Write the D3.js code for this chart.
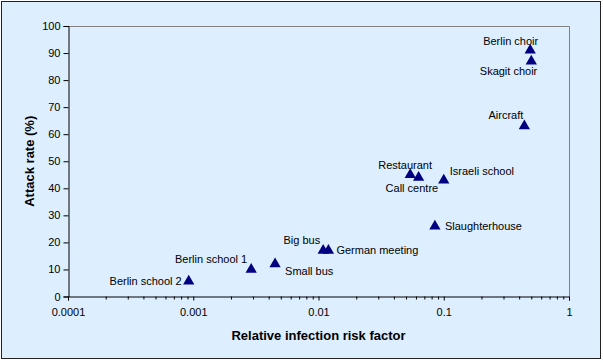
<!DOCTYPE html>
<html>
<head>
<meta charset="utf-8">
<script src="https://cdn.jsdelivr.net/npm/d3@7"></script>
<style>
  body { margin: 0; background: #fff; }
  text { font-family: "Liberation Sans", Arial, sans-serif; }
</style>
</head>
<body>
<div id="chart"></div>
<script>
// outbreak data
const outbreaks = ['Berlin school 2', 'Berlin school 1', 'Small bus', 'Big bus', 'German meeting',
  'Restaurant', 'Call centre', 'Israeli school', 'Slaughterhouse', 'Aircraft', 'Berlin choir', 'Skagit choir'];
const riskFactor = [0.00092, 0.0029, 0.0045, 0.0109, 0.012, 0.054, 0.063, 0.1, 0.085, 0.44, 0.49, 0.5];
const attackRate = [5.6, 10, 12, 17, 17, 45, 44, 43, 26, 63, 91, 87];
const xTicks = [0.0001, 0.001, 0.01, 0.1, 1];
const yTicks = d3.range(0, 101, 10);

// label placement relative to each marker (dx, dy, anchor)
const labelPlace = [
  [-7, 0, 'end'], [-4, -10, 'end'], [10, 7, 'start'], [-3, -10, 'end'], [8, 0, 'start'],
  [-32, -10, 'start'], [-33, 11, 'start'], [6, -9, 'start'], [10, 0, 'start'],
  [-1, -11, 'end'], [8, -9, 'end'], [6, 10, 'end']
];

const width = 603, height = 363;
const margin = { top: 26, right: 34, bottom: 66, left: 68 };

const svg = d3.select('#chart').append('svg')
  .attr('width', width)
  .attr('height', height);

svg.append('rect')
  .attr('x', 1.5).attr('y', 1.5)
  .attr('width', 599).attr('height', 357)
  .attr('fill', '#DDEEFF')
  .attr('stroke', '#222').attr('stroke-width', 1);

const x = d3.scaleLog()
  .domain([0.0001, 1])
  .range([margin.left, width - margin.right]);

const y = d3.scaleLinear()
  .domain([0, 100])
  .range([height - margin.bottom - 0.5, margin.top]);

const plotR = width - margin.right;
const plotB = height - margin.bottom - 0.5;

// plot frame top & right in grey
svg.append('path')
  .attr('d', `M${margin.left},${margin.top + 0.5}H${plotR + 0.5}V${plotB}`)
  .attr('fill', 'none')
  .attr('stroke', '#808080');

// y axis
const yAxis = svg.append('g')
  .attr('transform', `translate(${margin.left + 0.5},0)`)
  .call(d3.axisLeft(y).tickValues(yTicks).tickSize(5).tickPadding(3));
yAxis.select('.domain').attr('stroke', '#000');
yAxis.selectAll('text').attr('font-size', 11).attr('fill', '#000');

// x axis, minor ticks
const minor = [];
xTicks.slice(0, -1).forEach(t => { for (let k = 2; k < 10; k++) minor.push(t * k); });
svg.append('g')
  .attr('transform', `translate(0,${plotB})`)
  .call(d3.axisBottom(x).tickValues(minor).tickSize(3).tickFormat(''))
  .call(g => g.select('.domain').remove());

const xAxis = svg.append('g')
  .attr('transform', `translate(0,${plotB})`)
  .call(d3.axisBottom(x).tickValues(xTicks).tickSize(4).tickPadding(8).tickFormat(d => String(d)));
xAxis.select('.domain').attr('stroke', '#000');
xAxis.selectAll('text').attr('font-size', 11).attr('fill', '#000');

// titles
svg.append('text')
  .attr('x', (margin.left + plotR) / 2)
  .attr('y', 340)
  .attr('text-anchor', 'middle')
  .attr('font-size', 13)
  .attr('font-weight', 'bold')
  .text('Relative infection risk factor');

svg.append('text')
  .attr('transform', `translate(34,${(margin.top + plotB) / 2}) rotate(-90)`)
  .attr('text-anchor', 'middle')
  .attr('font-size', 13)
  .attr('font-weight', 'bold')
  .text('Attack rate (%)');

// markers
const tri = d3.symbol().type(d3.symbolTriangle).size(55);
const pts = outbreaks.map((name, i) => ({ name, rf: riskFactor[i], ar: attackRate[i], p: labelPlace[i] }));

svg.selectAll('.pt')
  .data(pts)
  .enter().append('path')
  .attr('class', 'pt')
  .attr('d', tri)
  .attr('transform', d => `translate(${x(d.rf)},${y(d.ar)})`)
  .attr('fill', '#000080');

svg.selectAll('.lbl')
  .data(pts)
  .enter().append('text')
  .attr('class', 'lbl')
  .attr('x', d => x(d.rf) + d.p[0])
  .attr('y', d => y(d.ar) + d.p[1])
  .attr('dy', '0.35em')
  .attr('text-anchor', d => d.p[2])
  .attr('font-size', 11)
  .attr('fill', '#000')
  .text(d => d.name);
</script>
</body>
</html>
